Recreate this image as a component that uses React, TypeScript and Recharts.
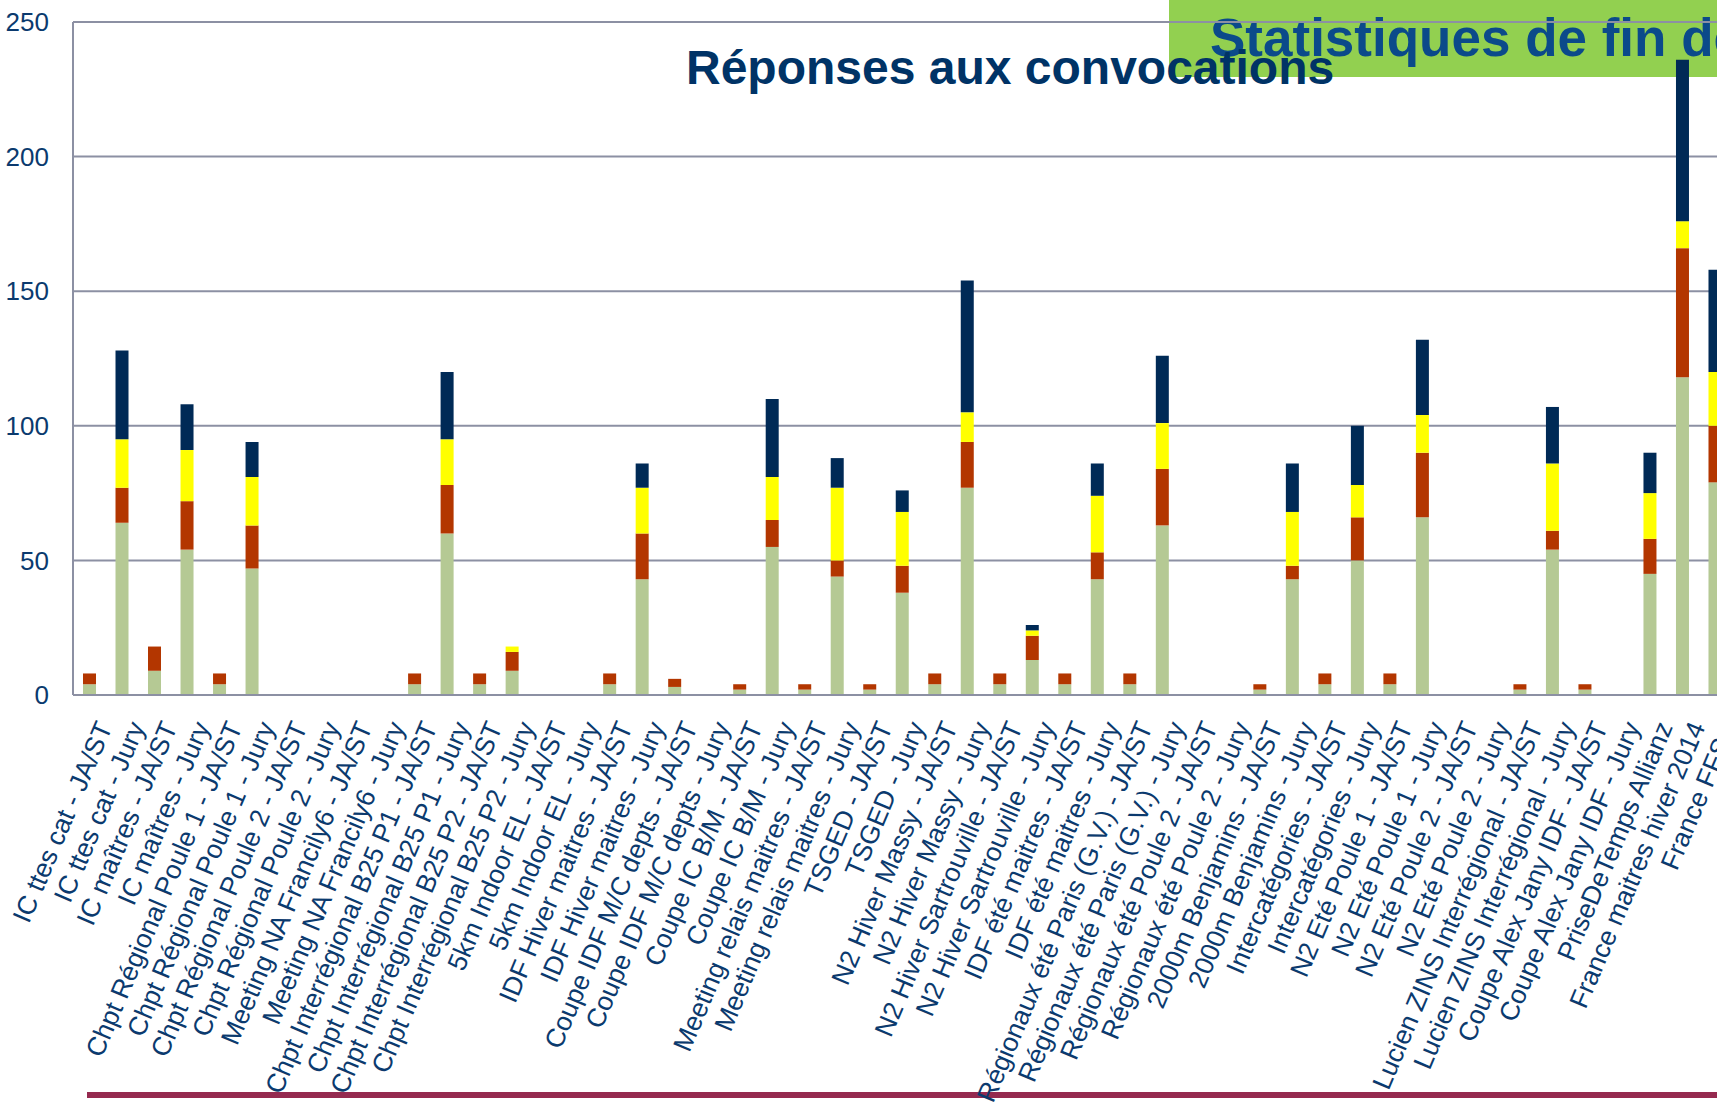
import { BarChart, Bar, XAxis, YAxis, CartesianGrid } from "recharts";

// ── Data ─────────────────────────────────────────────────────────────

const categories = [
  "IC ttes cat - JA/ST",
  "IC ttes cat - Jury",
  "IC maîtres - JA/ST",
  "IC maîtres - Jury",
  "Chpt Régional Poule 1 - JA/ST",
  "Chpt Régional Poule 1 - Jury",
  "Chpt Régional Poule 2 - JA/ST",
  "Chpt Régional Poule 2 - Jury",
  "Meeting NA Francily6 - JA/ST",
  "Meeting NA Francily6 - Jury",
  "Chpt Interrégional B25 P1 - JA/ST",
  "Chpt Interrégional B25 P1 - Jury",
  "Chpt Interrégional B25 P2 - JA/ST",
  "Chpt Interrégional B25 P2 - Jury",
  "5km Indoor EL - JA/ST",
  "5km Indoor EL - Jury",
  "IDF Hiver maitres - JA/ST",
  "IDF Hiver maitres - Jury",
  "Coupe IDF M/C depts - JA/ST",
  "Coupe IDF M/C depts - Jury",
  "Coupe IC B/M - JA/ST",
  "Coupe IC B/M - Jury",
  "Meeting relais maitres - JA/ST",
  "Meeting relais maitres - Jury",
  "TSGED - JA/ST",
  "TSGED - Jury",
  "N2 Hiver Massy - JA/ST",
  "N2 Hiver Massy - Jury",
  "N2 Hiver Sartrouville - JA/ST",
  "N2 Hiver Sartrouville - Jury",
  "IDF été maitres - JA/ST",
  "IDF été maitres - Jury",
  "Régionaux été Paris (G.V.) - JA/ST",
  "Régionaux été Paris (G.V.) - Jury",
  "Régionaux été Poule 2 - JA/ST",
  "Régionaux été Poule 2 - Jury",
  "2000m Benjamins - JA/ST",
  "2000m Benjamins - Jury",
  "Intercatégories - JA/ST",
  "Intercatégories - Jury",
  "N2 Eté Poule 1 - JA/ST",
  "N2 Eté Poule 1 - Jury",
  "N2 Eté Poule 2 - JA/ST",
  "N2 Eté Poule 2 - Jury",
  "Lucien ZINS Interrégional - JA/ST",
  "Lucien ZINS Interrégional - Jury",
  "Coupe Alex Jany IDF - JA/ST",
  "Coupe Alex Jany IDF - Jury",
  "PriseDeTemps Allianz",
  "France maitres hiver 2014",
  "France FFSA",
];

// stacked segments, bottom to top
const greenSeg = [
  4, 64, 9, 54, 4, 47, 0, 0, 0, 0, 4, 60, 4, 9, 0, 0, 4, 43, 3, 0, 2, 55, 2, 44, 2, 38,
  4, 77, 4, 13, 4, 43, 4, 63, 0, 0, 2, 43, 4, 50, 4, 66, 0, 0, 2, 54, 2, 0, 45, 118, 79,
];
const redSeg = [
  4, 13, 9, 18, 4, 16, 0, 0, 0, 0, 4, 18, 4, 7, 0, 0, 4, 17, 3, 0, 2, 10, 2, 6, 2, 10,
  4, 17, 4, 9, 4, 10, 4, 21, 0, 0, 2, 5, 4, 16, 4, 24, 0, 0, 2, 7, 2, 0, 13, 48, 21,
];
const yellowSeg = [
  0, 18, 0, 19, 0, 18, 0, 0, 0, 0, 0, 17, 0, 2, 0, 0, 0, 17, 0, 0, 0, 16, 0, 27, 0, 20,
  0, 11, 0, 2, 0, 21, 0, 17, 0, 0, 0, 20, 0, 12, 0, 14, 0, 0, 0, 25, 0, 0, 17, 10, 20,
];
const navySeg = [
  0, 33, 0, 17, 0, 13, 0, 0, 0, 0, 0, 25, 0, 0, 0, 0, 0, 9, 0, 0, 0, 29, 0, 11, 0, 8,
  0, 49, 0, 2, 0, 12, 0, 25, 0, 0, 0, 18, 0, 22, 0, 28, 0, 0, 0, 21, 0, 0, 15, 60, 38,
];

const yTicks = [0, 50, 100, 150, 200, 250];

const data = categories.map((name, i) => ({
  name,
  green: greenSeg[i],
  red: redSeg[i],
  yellow: yellowSeg[i],
  navy: navySeg[i],
}));

// ── Styles ───────────────────────────────────────────────────────────

const FONT = "'Liberation Sans', Arial, sans-serif";
const TEXT_BLUE = "#0B3A6E";
const GRID = "#8C90A3";

function AngledTick({ x, y, payload }: { x?: number; y?: number; payload?: { value: string } }) {
  return (
    <g transform={`translate(${(x ?? 0) + 15},${(y ?? 0) + 20})`}>
      <text
        x={0}
        y={0}
        dy="0.35em"
        textAnchor="end"
        transform="rotate(-67)"
        fill={TEXT_BLUE}
        fontSize={26.5}
        fontFamily={FONT}
      >
        {payload?.value}
      </text>
    </g>
  );
}

export default function App() {
  return (
    <div
      style={{
        position: "fixed",
        left: 0,
        top: 0,
        width: 1717,
        height: 1109,
        overflow: "hidden",
        background: "#fff",
      }}
    >
      {/* slide background: green banner + bottom rule */}
      <svg width={1717} height={1109} style={{ position: "absolute", left: 0, top: 0 }}>
        <rect x={1169} y={0} width={548} height={77} fill="#92D050" />
        <text x={1210} y={56} fill="#0B4A8A" fontSize={53} fontWeight="bold" fontFamily={FONT}>
          Statistiques de fin de saison
        </text>
        <rect x={87} y={1092} width={1630} height={6} fill="#952A4F" />
      </svg>

      <div style={{ position: "absolute", left: 0, top: 0 }}>
        <BarChart
          width={1740}
          height={1109}
          data={data}
          margin={{ top: 22, right: 9, bottom: 0, left: 0 }}
        >
          <CartesianGrid vertical={false} stroke={GRID} strokeWidth={2} />
          <XAxis
            dataKey="name"
            interval={0}
            tickLine={false}
            tickSize={8}
            tickMargin={0}
            height={414}
            axisLine={{ stroke: GRID, strokeWidth: 2 }}
            tick={<AngledTick />}
          />
          <YAxis
            type="number"
            domain={[0, 250]}
            ticks={yTicks}
            width={73}
            tickLine={false}
            tickSize={6}
            tickMargin={18}
            axisLine={{ stroke: GRID, strokeWidth: 2 }}
            tick={{ fill: TEXT_BLUE, fontSize: 26, fontFamily: FONT }}
          />
          <Bar dataKey="green" stackId="a" fill="#B5C994" barSize={13} isAnimationActive={false} />
          <Bar dataKey="red" stackId="a" fill="#B33600" barSize={13} isAnimationActive={false} />
          <Bar dataKey="yellow" stackId="a" fill="#FFFF00" barSize={13} isAnimationActive={false} />
          <Bar dataKey="navy" stackId="a" fill="#002A56" barSize={13} isAnimationActive={false} />
        </BarChart>
      </div>

      <svg
        width={1717}
        height={1109}
        style={{ position: "absolute", left: 0, top: 0, pointerEvents: "none" }}
      >
        <text x={686} y={84} fill="#003366" fontSize={48} fontWeight="bold" fontFamily={FONT}>
          Réponses aux convocations
        </text>
      </svg>
    </div>
  );
}
